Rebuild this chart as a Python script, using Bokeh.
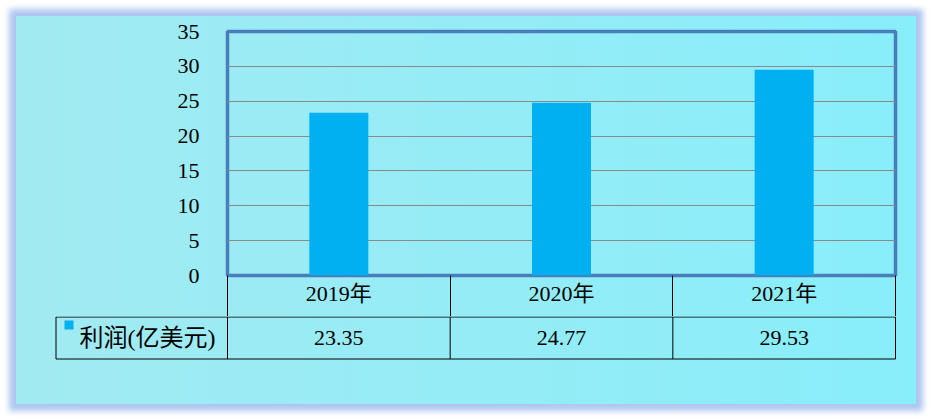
from bokeh.plotting import figure
from bokeh.models import Range1d, FixedTicker, LinearAxis, Spacer
from bokeh.layouts import column, row
from bokeh.core.properties import value
from bokeh.embed import file_html
from bokeh.resources import INLINE

# ---- data ----
years = ["2019年", "2020年", "2021年"]
profits = [23.35, 24.77, 29.53]
profit_labels = ["23.35", "24.77", "29.53"]
series_name = "利润(亿美元)"
y_ticks = [0, 5, 10, 15, 20, 25, 30, 35]

FONT = "Liberation Serif, Noto Sans CJK SC"
BAR = "#00b0f0"
FRAME = "#4a7ebb"
n = len(years)
centers = [i + 0.5 for i in range(n)]   # category slots on a 0..n axis

# ---- chart part (with the header row of the data table as an axis) ----
p = figure(width=900, height=300,
           x_range=Range1d(0, n),
           y_range=Range1d(0, 35),
           x_axis_location=None,
           output_backend="svg", toolbar_location=None,
           min_border_left=211, min_border_right=21,
           min_border_top=15, min_border_bottom=41,
           border_fill_color=None, background_fill_color=None,
           outline_line_color=FRAME, outline_line_width=3.5,
           frame_align=False)
p.xgrid.visible = False
p.yaxis.ticker = FixedTicker(ticks=y_ticks)
p.yaxis.axis_line_color = None
p.yaxis.major_tick_line_color = None
p.yaxis.minor_tick_line_color = None
p.yaxis.major_label_standoff = 22
p.yaxis.major_label_text_font = "Liberation Serif"
p.yaxis.major_label_text_font_size = "22px"
p.yaxis.major_label_text_color = "black"
p.ygrid.ticker = FixedTicker(ticks=y_ticks[1:-1])
p.ygrid.grid_line_color = "#8a8a8a"
p.ygrid.grid_line_width = 1

p.vbar(x=centers, top=profits, width=0.265, color=BAR, line_color=None)

# header row of the table: cell borders = minor ticks, year labels = major labels
hdr = LinearAxis(ticker=FixedTicker(ticks=centers, minor_ticks=list(range(n + 1))),
                 major_label_overrides={c: y for c, y in zip(centers, years)},
                 axis_line_color=None,
                 major_tick_line_color=None, major_tick_out=0, major_tick_in=0,
                 minor_tick_line_color="black", minor_tick_line_width=1,
                 minor_tick_out=41, minor_tick_in=0,
                 major_label_standoff=-36,
                 major_label_text_font=FONT,
                 major_label_text_font_size="22px",
                 major_label_text_color="black")
p.add_layout(hdr, "below")

# ---- value row of the data table ----
PX_PER_CAT = (895 - 227) / n


def px2x(px):
    return (px - 227) / PX_PER_CAT


t = figure(width=900, height=88,
           x_range=Range1d(px2x(16), px2x(916)),
           y_range=Range1d(404, 316),
           x_axis_location=None, y_axis_location=None,
           output_backend="svg", toolbar_location=None,
           min_border=0, border_fill_color=None, background_fill_color=None,
           outline_line_color=None, frame_align=False)
t.grid.visible = False

xl = px2x(55.5)
row1, row2 = 316.5, 358.5
t.segment(x0=[xl, xl], y0=[row1, row2], x1=[n, n], y1=[row1, row2],
          line_color="black", line_width=1)
t.segment(x0=[xl] + list(range(n + 1)), y0=[row1] * (n + 2),
          x1=[xl] + list(range(n + 1)), y1=[row2] * (n + 2),
          line_color="black", line_width=1)

t.text(x=centers, y=[337] * n, text=profit_labels, text_font=value(FONT),
       text_font_size=value("22px"), text_color="black",
       text_align="center", text_baseline="middle")
t.text(x=[px2x(79)], y=[337], text=[series_name], text_font=value(FONT),
       text_font_size=value("24px"), text_color="black",
       text_align="left", text_baseline="middle")
t.rect(x=[px2x(68.5)], y=[324.5], width=9, height=9,
       width_units="screen", height_units="screen",
       fill_color=BAR, line_color=None)

card = column(p, t, spacing=0, width=900, height=388,
              styles={"background": "linear-gradient(to right, #a2eaf2, #88eefa)",
                      "box-shadow": "0 0 6px 7px #aec6f0"})
layout = column(Spacer(width=916, height=16),
                row(Spacer(width=16, height=388), card, spacing=0),
                spacing=0)

open("out.html", "w").write(file_html(layout, INLINE))
